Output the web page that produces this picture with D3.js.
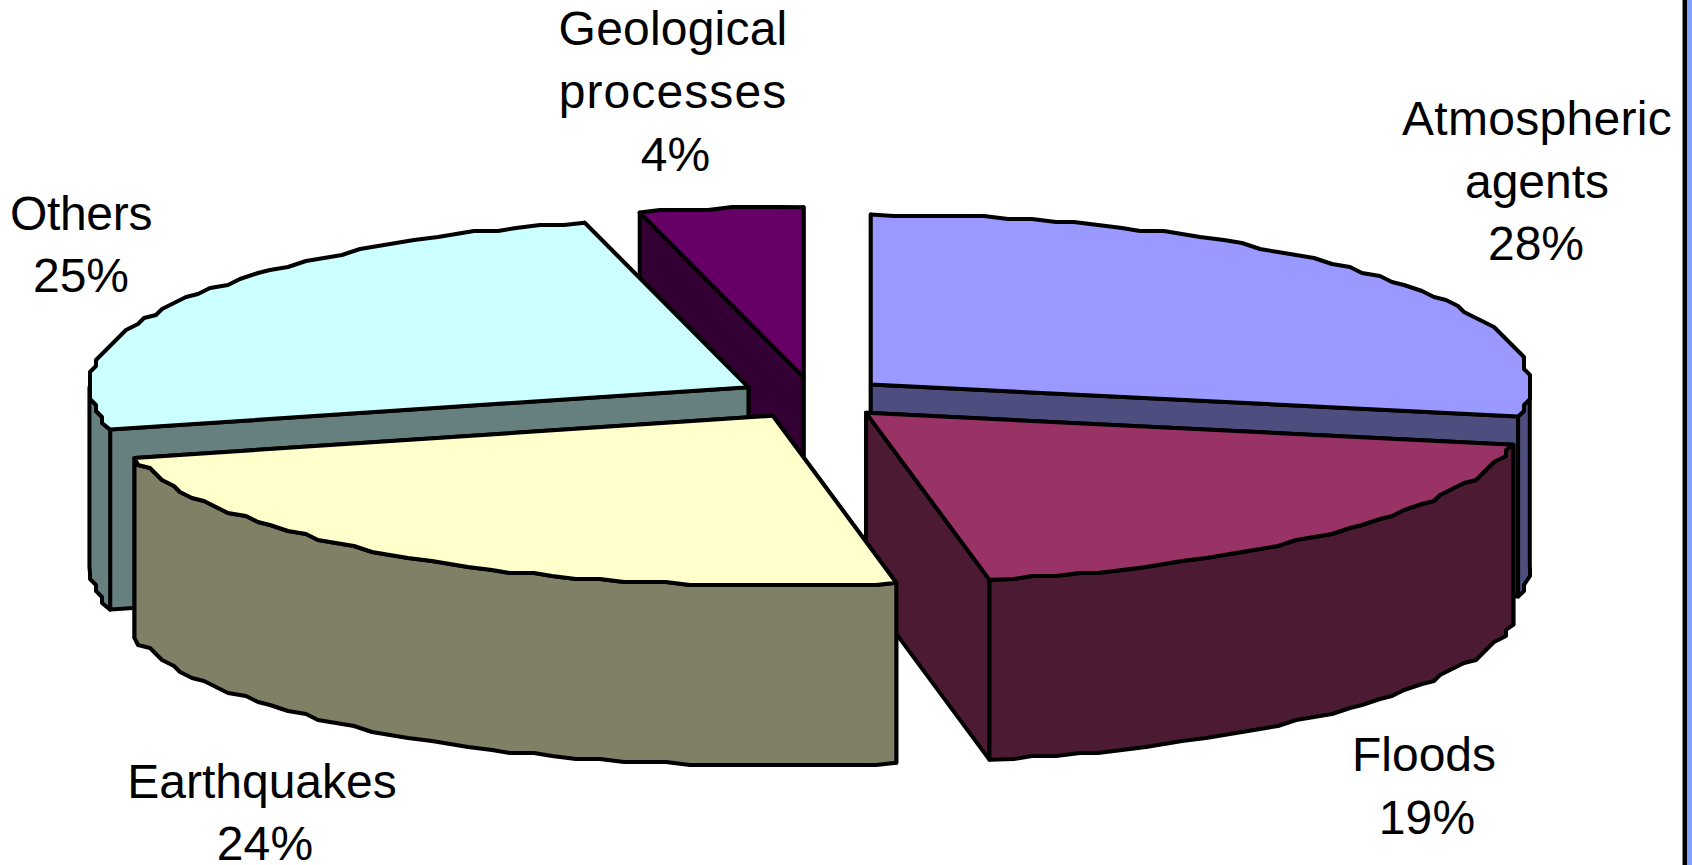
<!DOCTYPE html>
<html>
<head>
<meta charset="utf-8">
<title>Causes</title>
<script src="https://cdn.jsdelivr.net/npm/d3@7"></script>
<style>
html, body { margin: 0; padding: 0; background: #fff; overflow: hidden; }
svg { display: block; }
text { font-family: "Liberation Sans", Arial, sans-serif; font-size: 48px; fill: #000; }
</style>
</head>
<body>
<svg id="chart" width="1692" height="865"></svg>
<script>
// Slice data, clockwise from twelve o'clock
const categories = ["Atmospheric agents", "Floods", "Earthquakes", "Others", "Geological processes"];
const shares = [28, 19, 24, 25, 4];
const topColors = ["#9999FF", "#993366", "#FFFFCC", "#CCFFFF", "#660066"];
const sideColors = ["#4D4D80", "#4D1A33", "#808066", "#668080", "#330033"];
const labelLines = [["Atmospheric", "agents"], ["Floods"], ["Earthquakes"], ["Others"], ["Geological", "processes"]];

// Projection of the tilted pie
const W = 1692, H = 865;
const cx = 813, cy = 398;
const rx = 659, ry = 170;
const explodeX = 75, explodeY = 21;
const depth = 180;
const gridX = 6, gridY = 3;

// Label block anchors: centre x and first baseline
const labelAnchors = [[1537, 135], [1424, 771], [262, 798], [81, 230], [673, 45]];
const labelLeading = [62.5, 62.5, 62, 62, 63];
// Fine placement per label line: horizontal shift and extra tracking
const lineShift = [[0, 0, -1], [0, 3], [0, 3], [0, 0], [0, 0, 2.5]];
const lineTracking = [[0.3, 0, 0], [0, 0.2], [0, 0.2], [-0.3, 0], [0.2, 1.1, 0]];

// Painter's order, back to front
const drawOrder = [4, 0, 3, 1, 2];

const svg = d3.select("#chart");
svg.append("rect").attr("width", W).attr("height", H).attr("fill", "#fff");

const pie = d3.pie().sort(null).value(d => d);
const arcs = pie(shares);

const lineGen = d3.line().curve(d3.curveLinearClosed);

function apexOf(a) {
  const mid = (a.startAngle + a.endAngle) / 2;
  return [cx + explodeX * Math.sin(mid), cy - explodeY * Math.cos(mid)];
}

function onRim(apex, t) {
  return [apex[0] + rx * Math.sin(t), apex[1] - ry * Math.cos(t)];
}

// Outline of the rim between two angles, snapped to a coarse device grid
function rimPoints(apex, t0, t1) {
  const n = Math.max(1, Math.round((t1 - t0) / (Math.PI / 90)));
  return d3.range(n + 1).map(i => {
    const p = onRim(apex, t0 + (t1 - t0) * i / n);
    if (i === 0 || i === n) return p;
    return [Math.round(p[0] / gridX) * gridX, Math.round(p[1] / gridY) * gridY];
  });
}

const drop = pts => pts.map(p => [p[0], p[1] + depth]);
const wall = (a, b) => [a, b, [b[0], b[1] + depth], [a[0], a[1] + depth]];

const slices = svg.append("g")
  .attr("stroke", "#000")
  .attr("stroke-width", 4)
  .attr("stroke-linejoin", "round");

drawOrder.forEach(i => {
  const a = arcs[i];
  const apex = apexOf(a);
  const g = slices.append("g").attr("class", "slice");
  const side = sideColors[i];

  // Radial walls, the one nearer the viewer painted last
  [onRim(apex, a.startAngle), onRim(apex, a.endAngle)]
    .sort((p, q) => p[1] - q[1])
    .forEach(edge => {
      g.append("path").attr("d", lineGen(wall(apex, edge))).attr("fill", side);
    });

  // Outer wall only where the rim faces the viewer
  const from = Math.max(a.startAngle, Math.PI / 2);
  const to = Math.min(a.endAngle, Math.PI * 1.5);
  if (to > from) {
    const rim = rimPoints(apex, from, to);
    g.append("path").attr("d", lineGen(rim.concat(drop(rim).reverse()))).attr("fill", side);
  }

  const top = [apex].concat(rimPoints(apex, a.startAngle, a.endAngle));
  g.append("path").attr("d", lineGen(top)).attr("fill", topColors[i]);
});

// Category and percentage labels
const labels = svg.append("g").attr("text-anchor", "middle");
categories.forEach((name, i) => {
  const [x, y] = labelAnchors[i];
  const lines = labelLines[i].concat(shares[i] + "%");
  lines.forEach((line, k) => {
    labels.append("text")
      .attr("x", x + lineShift[i][k])
      .attr("y", y + k * labelLeading[i])
      .attr("letter-spacing", lineTracking[i][k])
      .text(line);
  });
});

// Slide frame along the right edge
svg.append("rect").attr("x", 1687).attr("y", 0).attr("width", 5).attr("height", H).attr("fill", "#7FA0FF");
svg.append("rect").attr("x", 1683).attr("y", 0).attr("width", 4).attr("height", H).attr("fill", "#000");
svg.append("rect").attr("x", 1682).attr("y", 0).attr("width", 1).attr("height", H).attr("fill", "#888");
</script>
</body>
</html>
